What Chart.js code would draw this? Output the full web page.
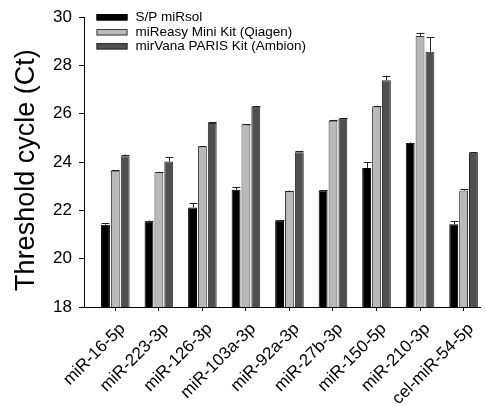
<!DOCTYPE html>
<html>
<head>
<meta charset="utf-8">
<script src="https://cdn.jsdelivr.net/npm/chart.js@4.4.1/dist/chart.umd.min.js"></script>
<style>
  html, body { margin: 0; padding: 0; background: #fff; }
  #wrap { width: 486px; height: 406px; position: relative; }
</style>
</head>
<body>
<div id="wrap"><canvas id="c"></canvas></div>
<script>
// miRNA targets on the x axis
const categories = ['miR-16-5p', 'miR-223-3p', 'miR-126-3p', 'miR-103a-3p', 'miR-92a-3p',
                    'miR-27b-3p', 'miR-150-5p', 'miR-210-3p', 'cel-miR-54-5p'];
// extraction kits
const seriesNames = ['S/P miRsol', 'miReasy Mini Kit (Qiagen)', 'mirVana PARIS Kit (Ambion)'];

// mean Ct and error per kit
const spMirsol    = [21.41, 21.55, 22.12, 22.85, 21.59, 22.82, 23.76, 24.79, 21.43];
const spMirsolErr = [0.07, 0.03, 0.18, 0.11, 0.02, 0.02, 0.23, 0.02, 0.13];
const mireasy     = [23.64, 23.58, 24.65, 25.56, 22.80, 25.71, 26.30, 29.22, 22.82];
const mireasyErr  = [0.03, 0.02, 0.02, 0.02, 0.02, 0.04, 0.04, 0.11, 0.06];
const mirvana     = [24.24, 24.02, 25.62, 26.29, 24.41, 25.79, 27.39, 28.57, 24.39];
const mirvanaErr  = [0.07, 0.19, 0.02, 0.02, 0.04, 0.02, 0.19, 0.59, 0.02];

const yTicks = [18, 20, 22, 24, 26, 28, 30];
const yTitle = 'Threshold cycle (Ct)';

const FONT = "'Liberation Sans', Arial, Helvetica, sans-serif";

function toPoints(values) {
  return values.map((v, i) => ({ x: i, y: v }));
}

// upward error whiskers with a cap
const errorBars = {
  id: 'errorBars',
  afterDatasetsDraw(chart) {
    const { ctx } = chart;
    const yScale = chart.scales.y;
    chart.data.datasets.forEach((ds, di) => {
      const meta = chart.getDatasetMeta(di);
      ctx.save();
      ctx.strokeStyle = '#222';
      ctx.lineWidth = 1;
      meta.data.forEach((bar, i) => {
        const err = ds.errors[i];
        const yTop = yScale.getPixelForValue(ds.data[i].y + err);
        const x = Math.round(bar.x) + 0.5;
        const half = bar.width / 2 - 0.5;
        ctx.beginPath();
        ctx.moveTo(x, bar.y);
        ctx.lineTo(x, yTop);
        ctx.moveTo(x - half, Math.round(yTop) + 0.5);
        ctx.lineTo(x + half, Math.round(yTop) + 0.5);
        ctx.stroke();
      });
      ctx.restore();
    });
  }
};

// stacked legend in the upper-left corner of the plot
const cornerLegend = {
  id: 'cornerLegend',
  afterDraw(chart, args, opts) {
    const { ctx, chartArea } = chart;
    ctx.save();
    ctx.font = `${opts.fontSize}px ${FONT}`;
    ctx.textBaseline = 'middle';
    ctx.textAlign = 'left';
    chart.data.datasets.forEach((ds, i) => {
      const cy = chartArea.top + opts.offsetY + i * opts.rowGap;
      const x0 = chartArea.left + opts.offsetX;
      const y0 = Math.round(cy - opts.boxH / 2);
      ctx.fillStyle = ds.backgroundColor;
      ctx.fillRect(x0, y0, opts.boxW, opts.boxH);
      ctx.strokeStyle = ds.borderColor;
      ctx.lineWidth = 1;
      ctx.strokeRect(x0 + 0.5, y0 + 0.5, opts.boxW - 1, opts.boxH - 1);
      ctx.fillStyle = '#000';
      ctx.fillText(ds.label, x0 + opts.boxW + opts.textGap, cy);
    });
    ctx.restore();
  }
};

// rotated y-axis title, placed slightly below the plot's midline
const axisTitle = {
  id: 'axisTitle',
  afterDraw(chart, args, opts) {
    const { ctx, chartArea } = chart;
    ctx.save();
    ctx.translate(opts.x, (chartArea.top + chartArea.bottom) / 2 + opts.dy);
    ctx.rotate(-Math.PI / 2);
    ctx.font = `${opts.fontSize}px ${FONT}`;
    ctx.fillStyle = '#000';
    ctx.textAlign = 'center';
    ctx.textBaseline = 'middle';
    ctx.fillText(opts.text, 0, 0);
    ctx.restore();
  }
};

const fills = ['#000000', '#b9b9b9', '#505050'];
const borders = ['#000000', '#3c3c3c', '#2a2a2a'];
const values = [spMirsol, mireasy, mirvana];
const errors = [spMirsolErr, mireasyErr, mirvanaErr];

new Chart(document.getElementById('c'), {
  type: 'bar',
  data: {
    datasets: seriesNames.map((name, k) => ({
      label: name,
      data: toPoints(values[k]),
      errors: errors[k],
      backgroundColor: fills[k],
      borderColor: borders[k],
      borderWidth: 1,
      categoryPercentage: 0.68,
      barPercentage: 0.9
    }))
  },
  options: {
    responsive: true,
    maintainAspectRatio: false,
    animation: false,
    layout: { padding: { top: 15.5, right: 0, bottom: 0, left: 0 } },
    plugins: {
      legend: { display: false },
      tooltip: { enabled: false },
      cornerLegend: { offsetX: 12.5, offsetY: 0.5, rowGap: 14.2, boxW: 31, boxH: 6.5, textGap: 8, fontSize: 13.5 },
      axisTitle: { text: yTitle, x: 26.5, dy: 8, fontSize: 27 }
    },
    scales: {
      x: {
        type: 'linear',
        min: -0.72,
        max: 8.40,
        offset: false,
        afterBuildTicks(scale) {
          scale.ticks = categories.map((_, i) => ({ value: i }));
        },
        afterFit(scale) { scale.height = 99; },
        ticks: {
          autoSkip: false,
          maxRotation: 45,
          minRotation: 45,
          padding: 8,
          color: '#000',
          showLabelBackdrop: true,
          backdropColor: 'rgba(255,255,255,0)',
          backdropPadding: 0,
          font: { family: FONT, size: 17 },
          callback: (v) => categories[v]
        },
        grid: { display: true, offset: false, drawOnChartArea: false, drawTicks: true, tickLength: 4, color: '#000' },
        border: { display: true, color: '#000', width: 1 }
      },
      y: {
        min: 18,
        max: 30,
        afterBuildTicks(scale) {
          scale.ticks = yTicks.map(v => ({ value: v }));
        },
        afterFit(scale) { scale.width = 84; },
        ticks: {
          padding: 7,
          color: '#000',
          font: { family: FONT, size: 17 }
        },
        grid: { display: true, drawOnChartArea: false, drawTicks: true, tickLength: 5, color: '#000' },
        border: { display: true, color: '#000', width: 1 },
        title: { display: false }
      }
    }
  },
  plugins: [errorBars, cornerLegend, axisTitle]
});
</script>
</body>
</html>
